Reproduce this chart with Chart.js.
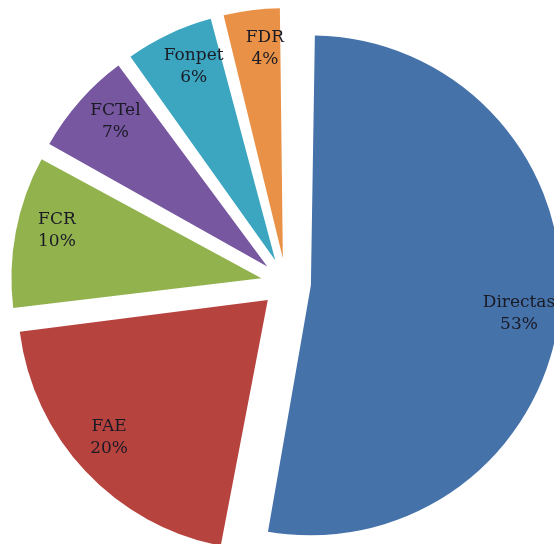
<!DOCTYPE html>
<html>
<head>
<meta charset="utf-8">
<script src="https://cdn.jsdelivr.net/npm/chart.js@4.4.1/dist/chart.umd.min.js"></script>
<style>
  html, body { margin: 0; padding: 0; background: #fff; }
  #wrap { width: 554px; height: 544px; }
</style>
</head>
<body>
<div id="wrap"><canvas id="pieChart" width="554" height="544"></canvas></div>
<script>
// categorías y porcentajes
const labels = ['Directas', 'FAE', 'FCR', 'FCTel', 'Fonpet', 'FDR'];
const values = [53, 20, 10, 7, 6, 4];
const colors = ['#4672AA', '#B7433F', '#92B24E', '#7757A0', '#3CA6C0', '#E99247'];
const explode = [100, 100, 100, 100, 100, 100];

// Chart.js agranda el radio de las porciones desplazadas; se compensa para que todas midan igual
const evenRadius = {
  id: 'evenRadius',
  beforeDatasetsDraw(chart) {
    const meta = chart.getDatasetMeta(0);
    const base = meta.controller.outerRadius;
    meta.data.forEach(arc => {
      const shift = (arc.options.offset || 0) / 4;
      const fix = 1 - Math.sin(Math.min(Math.PI, arc.circumference));
      arc.outerRadius = base - shift * fix;
    });
  }
};

// etiquetas dentro de cada porción (nombre + porcentaje)
const sliceLabels = {
  id: 'sliceLabels',
  afterDatasetsDraw(chart) {
    const ctx = chart.ctx;
    const meta = chart.getDatasetMeta(0);
    const base = meta.controller.outerRadius;
    ctx.save();
    ctx.font = '17px "DejaVu Serif"';
    ctx.fillStyle = '#1a1a24';
    ctx.textAlign = 'center';
    ctx.textBaseline = 'middle';
    meta.data.forEach((arc, i) => {
      const mid = (arc.startAngle + arc.endAngle) / 2;
      const shift = (arc.options.offset || 0) / 4;
      const r = base * 0.84;
      // el texto queda un poco girado en sentido horario respecto a la bisectriz
      const x = arc.x + Math.cos(mid) * shift + Math.cos(mid + 0.04) * r;
      const y = arc.y + Math.sin(mid) * shift + Math.sin(mid + 0.04) * r;
      ctx.fillText(labels[i], x, y - 11);
      ctx.fillText(values[i] + '%', x, y + 11);
    });
    ctx.restore();
  }
};

const ctx = document.getElementById('pieChart').getContext('2d');
new Chart(ctx, {
  type: 'pie',
  data: {
    labels: labels,
    datasets: [{
      data: values,
      backgroundColor: colors,
      borderWidth: 0,
      offset: explode
    }]
  },
  options: {
    responsive: false,
    animation: false,
    radius: 250,
    clip: false,
    layout: { padding: { left: 18, right: 0, top: 22, bottom: 0 } },
    plugins: {
      legend: { display: false },
      tooltip: { enabled: false }
    }
  },
  plugins: [evenRadius, sliceLabels]
});
</script>
</body>
</html>
